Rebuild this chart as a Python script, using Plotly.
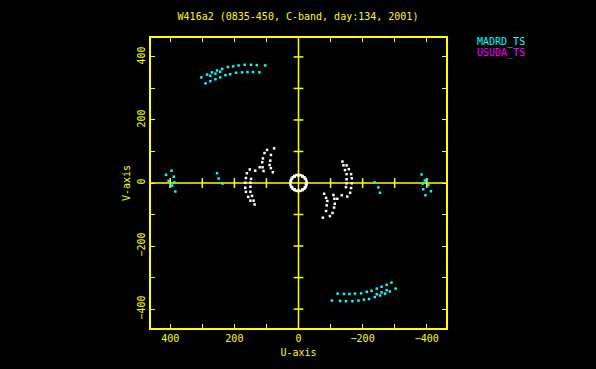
import plotly.graph_objects as go

# ---- data (u, v in units) ----
# MADRD_TS baseline points (one half; the conjugate half is (-u, -v))
cyan_u = [303, 285, 270, 254, 238, 220, 204, 187, 168, 148, 130, 104,
          290, 275, 259, 244, 228, 213, 195, 176, 159, 142, 122,
          275, 259, 244,
          384, 400, 394, 387, 405, 389, 413, 396,
          254, 249, 237]
cyan_v = [335, 344, 351, 357, 362, 368, 370, 373, 375, 375, 374, 373,
          316, 323, 329, 335, 342, 345, 350, 351, 352, 352, 351,
          340, 347, 353,
          -27, -11, -8, 2, 7, 20, 26, 39,
          31, 14, -2]

# Other short baselines (white), one half; conjugate half is (-u, -v)
white_u = [152, 161, 164, 166, 166, 164, 157, 150, 137,
           148, 150, 150, 150, 145, 140, 135, 121,
           98, 106, 111, 113, 112, 109,
           76, 86, 88, 90, 86, 80]
white_v = [43, 31, 16, 1, -15, -28, -44, -56, -68,
           13, 1, -12, -28, -41, -56, 39, 50,
           105, 95, 78, 66, 50, 38,
           110, 89, 71, 57, 47, 34]

# Zero-spacing ring around the origin (half, conjugate completes it)
ring_u = [26, 25, 22.5, 18.4, 13, 6.7, 0, -6.7, -13, -18.4, -22.5, -25,
          23, 20, 12, 0, -12, -20]
ring_v = [0, 6.7, 13, 18.4, 22.5, 25.1, 26, 25.1, 22.5, 18.4, 13, 6.7,
          4, 13, 20, 23, 20, 13]

tick_vals = [-400, -300, -200, -100, 0, 100, 200, 300, 400]
x_tick_text = ["\u2212400", "", "\u2212200", "", "0", "", "200", "", "400"]
y_tick_text = ["\u2212400", "", "\u2212200", "", "0", "", "200", "", "400"]
axis_range = [-460, 460]

title_text = "W416a2 (0835-450, C-band, day:134, 2001)"
legend_names = ["MADRD_TS", "USUDA_TS"]
legend_colors = ["#00ffff", "#ff00ff"]

YEL = "#ffff00"
FONT = "DejaVu Sans Mono"

W, H = 596, 369
ML, MR, MT, MB = 151, 150, 38, 36

fig = go.Figure()

def conj(a):
    return [-x for x in a]

# crosshair ticks
cross_ticks = [t for t in tick_vals if t != 0]
fig.add_trace(go.Scatter(x=cross_ticks, y=[0] * len(cross_ticks), mode="markers",
                         marker=dict(symbol="line-ns", size=7,
                                     line=dict(color=YEL, width=1.5)),
                         hoverinfo="skip", showlegend=False))
fig.add_trace(go.Scatter(x=[0] * len(cross_ticks), y=cross_ticks, mode="markers",
                         marker=dict(symbol="line-ew", size=7,
                                     line=dict(color=YEL, width=1.5)),
                         hoverinfo="skip", showlegend=False))

fig.add_trace(go.Scatter(x=white_u + conj(white_u) + ring_u + conj(ring_u),
                         y=white_v + conj(white_v) + ring_v + conj(ring_v),
                         mode="markers",
                         marker=dict(symbol="square", size=2.5, color="#ffffff",
                                     line=dict(width=0)),
                         showlegend=False))
fig.add_trace(go.Scatter(x=cyan_u + conj(cyan_u), y=cyan_v + conj(cyan_v),
                         mode="markers",
                         marker=dict(symbol="square", size=2.5, color="#00ffff",
                                     line=dict(width=0)),
                         name=legend_names[0], showlegend=False))

# centre lines
fig.add_shape(type="line", x0=axis_range[0], x1=axis_range[1], y0=0, y1=0,
              xref="x", yref="y", line=dict(color=YEL, width=1.5), layer="below")
fig.add_shape(type="line", y0=axis_range[0], y1=axis_range[1], x0=0, x1=0,
              xref="x", yref="y", line=dict(color=YEL, width=1.5), layer="below")

# legend text (positions converted from pixels to paper coordinates)
pw, ph = W - ML - MR, H - MT - MB
for i, (nm, c) in enumerate(zip(legend_names, legend_colors)):
    px, py = 475, 42 + 11.5 * i
    fig.add_annotation(text=nm, x=(px - ML) / pw, y=(H - MB - py) / ph,
                       xref="paper", yref="paper",
                       showarrow=False, xanchor="left", yanchor="middle",
                       font=dict(family=FONT, size=10, color=c))

axis_common = dict(showline=True, linecolor=YEL, linewidth=1.5, mirror="allticks",
                   ticks="inside", ticklen=4, tickwidth=1, tickcolor=YEL,
                   showgrid=False, zeroline=False, tickvals=tick_vals,
                   tickfont=dict(family=FONT, size=10, color=YEL))

fig.update_layout(
    width=W, height=H,
    paper_bgcolor="#000000", plot_bgcolor="#000000",
    margin=dict(l=ML, r=MR, t=MT, b=MB),
    title=dict(text=title_text, x=0.5, xanchor="center", y=1 - 16 / H,
               yanchor="middle", font=dict(family=FONT, size=10, color=YEL)),
    xaxis=dict(axis_common, autorange=False, range=[460, -460], ticktext=x_tick_text,
               title=dict(text="U-axis", standoff=6,
                          font=dict(family=FONT, size=10, color=YEL))),
    yaxis=dict(axis_common, autorange=False, range=axis_range,
               ticktext=y_tick_text, tickangle=-90,
               title=dict(text="V-axis", standoff=4,
                          font=dict(family=FONT, size=10, color=YEL))),
    showlegend=False,
)

fig.write_html("out.html", config={"displayModeBar": False},
               post_script="document.body.style.margin='0';"
                           "document.body.style.background='#000';")
